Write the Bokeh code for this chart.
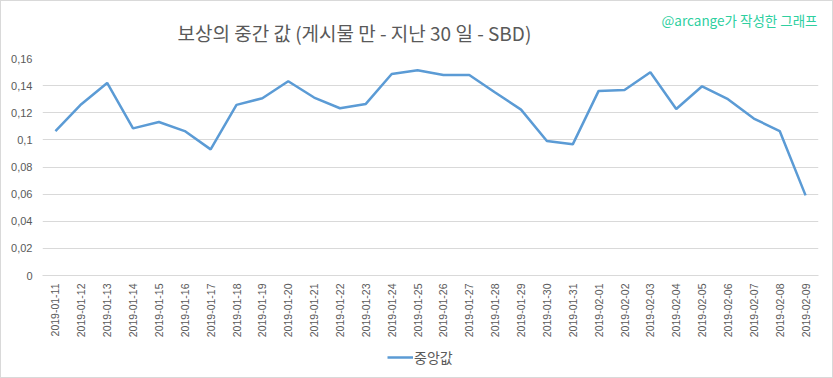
import math
from bokeh.plotting import figure
from bokeh.layouts import column
from bokeh.models import (Label, FixedTicker, CustomJSTickFormatter, Legend, LegendItem, Range1d)
from bokeh.embed import file_html
from bokeh.resources import INLINE

dates = ["2019-01-11", "2019-01-12", "2019-01-13", "2019-01-14", "2019-01-15",
         "2019-01-16", "2019-01-17", "2019-01-18", "2019-01-19", "2019-01-20",
         "2019-01-21", "2019-01-22", "2019-01-23", "2019-01-24", "2019-01-25",
         "2019-01-26", "2019-01-27", "2019-01-28", "2019-01-29", "2019-01-30",
         "2019-01-31", "2019-02-01", "2019-02-02", "2019-02-03", "2019-02-04",
         "2019-02-05", "2019-02-06", "2019-02-07", "2019-02-08", "2019-02-09"]
median_values = [0.1065, 0.1263, 0.1420, 0.1085, 0.1132, 0.1065, 0.0930, 0.1258,
                 0.1307, 0.1432, 0.1312, 0.1233, 0.1265, 0.1486, 0.1514, 0.1479,
                 0.1479, 0.1349, 0.1223, 0.0992, 0.0967, 0.1361, 0.1368, 0.1499,
                 0.1228, 0.1395, 0.1300, 0.1157, 0.1065, 0.0591]
y_ticks = [0, 0.02, 0.04, 0.06, 0.08, 0.10, 0.12, 0.14, 0.16]
series_name = "중앙값"
title_text = "보상의 중간 값 (게시물 만 - 지난 30 일 - SBD)"
credit_text = "@arcange가 작성한 그래프"

LINE_COLOR = "#5b9bd5"
TEXT_COLOR = "#595959"
KR_FONT = "Noto Sans CJK KR"


def bare_figure(h):
    f = figure(width=831, height=h, output_backend="svg", toolbar_location=None,
               x_axis_type=None, y_axis_type=None,
               x_range=Range1d(0, 1), y_range=Range1d(0, 1),
               min_border_left=41, min_border_right=14,
               min_border_top=0, min_border_bottom=0)
    f.outline_line_color = None
    f.xgrid.grid_line_color = None
    f.ygrid.grid_line_color = None
    f.background_fill_color = "white"
    f.border_fill_color = "white"
    return f


# ---- header (title + credit) ----
top = bare_figure(47)
top.add_layout(Label(x=135, y=16, x_units="screen", y_units="screen",
                     text=title_text, text_font=KR_FONT,
                     text_font_size="19px", text_color=TEXT_COLOR,
                     text_align="left", text_baseline="middle"))
top.add_layout(Label(x=775, y=29, x_units="screen", y_units="screen",
                     text=credit_text, text_font=KR_FONT,
                     text_font_size="13.5px", text_color="#2ecf9f",
                     text_align="right", text_baseline="middle"))

# ---- main chart ----
p = figure(width=831, height=295, x_range=dates, y_range=(0, 0.16),
           output_backend="svg", toolbar_location=None,
           min_border_left=41, min_border_right=14, min_border_top=10,
           min_border_bottom=68)
p.outline_line_color = None
p.background_fill_color = "white"
p.border_fill_color = "white"
p.x_range.range_padding = 0

r = p.line(dates, median_values, line_color=LINE_COLOR, line_width=2.5)

p.xgrid.grid_line_color = None
p.ygrid.grid_line_color = "#d9d9d9"
p.ygrid.grid_line_width = 1

p.yaxis.ticker = FixedTicker(ticks=y_ticks)
p.yaxis.formatter = CustomJSTickFormatter(
    code="return parseFloat(tick.toFixed(2)).toString().replace('.', ',');")
p.yaxis.axis_line_color = None
p.yaxis.major_tick_line_color = None
p.yaxis.minor_tick_line_color = None
p.yaxis.major_tick_out = 0
p.yaxis.minor_tick_out = 0
p.yaxis.major_label_text_color = TEXT_COLOR
p.yaxis.major_label_text_font = "Liberation Sans"
p.yaxis.major_label_text_font_size = "11px"
p.yaxis.major_label_standoff = 10

p.xaxis.axis_line_color = "#d9d9d9"
p.xaxis.major_tick_line_color = None
p.xaxis.minor_tick_line_color = None
p.xaxis.major_tick_out = 0
p.xaxis.minor_tick_out = 0
p.xaxis.major_label_orientation = math.pi / 2
p.xaxis.major_label_text_color = TEXT_COLOR
p.xaxis.major_label_text_font = "Liberation Sans"
p.xaxis.major_label_text_font_size = "10.5px"
p.xaxis.major_label_standoff = 8

# ---- legend strip ----
leg = bare_figure(34)
# single-point placeholder: draws nothing, only carries the legend swatch style
lr = leg.line(x=[0], y=[0], line_color=LINE_COLOR, line_width=2.5)
legend = Legend(items=[LegendItem(label=series_name, renderers=[lr])],
                location=(345, 10), orientation="horizontal",
                border_line_color=None, background_fill_alpha=0,
                padding=0, margin=0, glyph_width=26, glyph_height=16,
                label_standoff=1, label_height=16,
                label_text_font=KR_FONT, label_text_font_size="14px",
                label_text_color=TEXT_COLOR)
leg.add_layout(legend)

layout = column(top, p, leg, spacing=0)
layout.styles = {"border": "1px solid #d9d9d9"}

open("out.html", "w").write(file_html(layout, INLINE))
